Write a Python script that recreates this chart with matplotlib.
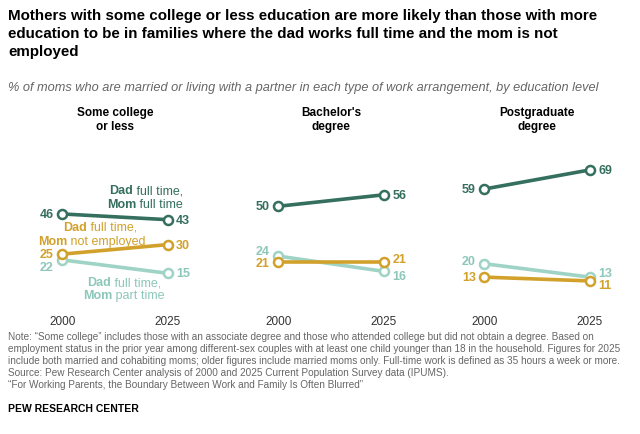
import matplotlib
matplotlib.use("Agg")
import matplotlib.pyplot as plt

years = [2000, 2025]
panels = ["Some college\nor less", "Bachelor's\ndegree", "Postgraduate\ndegree"]
full_full = [[46, 43], [50, 56], [59, 69]]
full_not = [[25, 30], [21, 21], [13, 11]]
full_part = [[22, 15], [24, 16], [20, 13]]

GREEN = "#356F5E"
GOLD = "#D2A12B"
TEAL = "#9ED3C6"
TEALTXT = "#8CC7B9"

W, H = 640, 435
fig = plt.figure(figsize=(6.4, 4.35), dpi=100)
plt.rcParams['font.family'] = ['Liberation Sans', 'DejaVu Sans']

def fx(x): return x / W
def fy(y): return 1 - y / H

fig.text(fx(8), fy(9), "Mothers with some college or less education are more likely than those with more\neducation to be in families where the dad works full time and the mom is not\nemployed",
         fontsize=10.9, fontweight='bold', va='top', ha='left', linespacing=1.35)
fig.text(fx(8), fy(88), "% of moms who are married or living with a partner in each type of work arrangement, by education level",
         fontsize=9.2, style='italic', color='#666666', va='center')

lefts = [41, 257, 463]
series = [(full_full, GREEN, GREEN), (full_not, GOLD, GOLD), (full_part, TEAL, TEALTXT)]
# label vertical nudges (points): (start, end) per panel per series
nudges = {
    (0, 0): (0, 0), (0, 1): (0, 0), (0, 2): (-5, 0),
    (1, 0): (0, 0), (1, 1): (-1, 2), (1, 2): (4, -3),
    (2, 0): (0, 0), (2, 1): (0, -3), (2, 2): (2, 3),
}
for i, (l, title) in enumerate(zip(lefts, panels)):
    ax = fig.add_axes([fx(l), (H - 303) / H, 148 / W, 134 / H])
    ax.set_xlim(1995, 2030)
    ax.set_ylim(0, 70)
    ax.axis('off')
    for k, (data, c, tc) in enumerate(series):
        v = data[i]
        ax.plot(years, v, color=c, lw=2.6, marker='o', ms=6.5, mfc='white', mec=c, mew=1.8,
                clip_on=False, zorder=3 - k)
        d0, d1 = nudges[(i, k)]
        ax.annotate(str(v[0]), (years[0], v[0]), xytext=(-6, d0), textcoords='offset points',
                    ha='right', va='center', fontsize=9, fontweight='bold', color=tc)
        ax.annotate(str(v[1]), (years[1], v[1]), xytext=(6, d1), textcoords='offset points',
                    ha='left', va='center', fontsize=9, fontweight='bold', color=tc)
    ax.text(years[0], -0.1, "2000", transform=ax.get_xaxis_transform(), ha='center', va='top', fontsize=8.5, color='#333333')
    ax.text(years[1], -0.1, "2025", transform=ax.get_xaxis_transform(), ha='center', va='top', fontsize=8.5, color='#333333')
    fig.text(fx(l + 74), fy(120), title, ha='center', va='center', fontsize=8.5, fontweight='bold', linespacing=1.2)

fig.canvas.draw()
r = fig.canvas.get_renderer()

def mixed(x, y, bold, normal, color, ha):
    t1 = fig.text(0, 0, bold, fontsize=9, fontweight='bold', color=color, va='center')
    t2 = fig.text(0, 0, normal, fontsize=9, color=color, va='center')
    w1 = t1.get_window_extent(r).width
    w2 = t2.get_window_extent(r).width
    tot = w1 + w2
    x0 = x - tot if ha == 'right' else x - tot / 2
    t1.set_position((fx(x0), fy(y)))
    t2.set_position((fx(x0 + w1), fy(y)))

mixed(183, 191, "Dad", " full time,", GREEN, 'right')
mixed(183, 205, "Mom", " full time", GREEN, 'right')
mixed(100, 228, "Dad", " full time,", GOLD, 'center')
mixed(92, 242, "Mom", " not employed", GOLD, 'center')
mixed(124, 283, "Dad", " full time,", TEALTXT, 'center')
mixed(124, 296, "Mom", " part time", TEALTXT, 'center')

note = ("Note: \u201cSome college\u201d includes those with an associate degree and those who attended college but did not obtain a degree. Based on\n"
        "employment status in the prior year among different-sex couples with at least one child younger than 18 in the household. Figures for 2025\n"
        "include both married and cohabiting moms; older figures include married moms only. Full-time work is defined as 35 hours a week or more.\n"
        "Source: Pew Research Center analysis of 2000 and 2025 Current Population Survey data (IPUMS).\n"
        "\u201cFor Working Parents, the Boundary Between Work and Family Is Often Blurred\u201d")
fig.text(fx(8), fy(332), note, fontsize=7.2, color='#666666', va='top', linespacing=1.25)
fig.text(fx(8), fy(409), "PEW RESEARCH CENTER", fontsize=7.5, fontweight='bold', va='center')

fig.savefig("out.png", dpi=100)
